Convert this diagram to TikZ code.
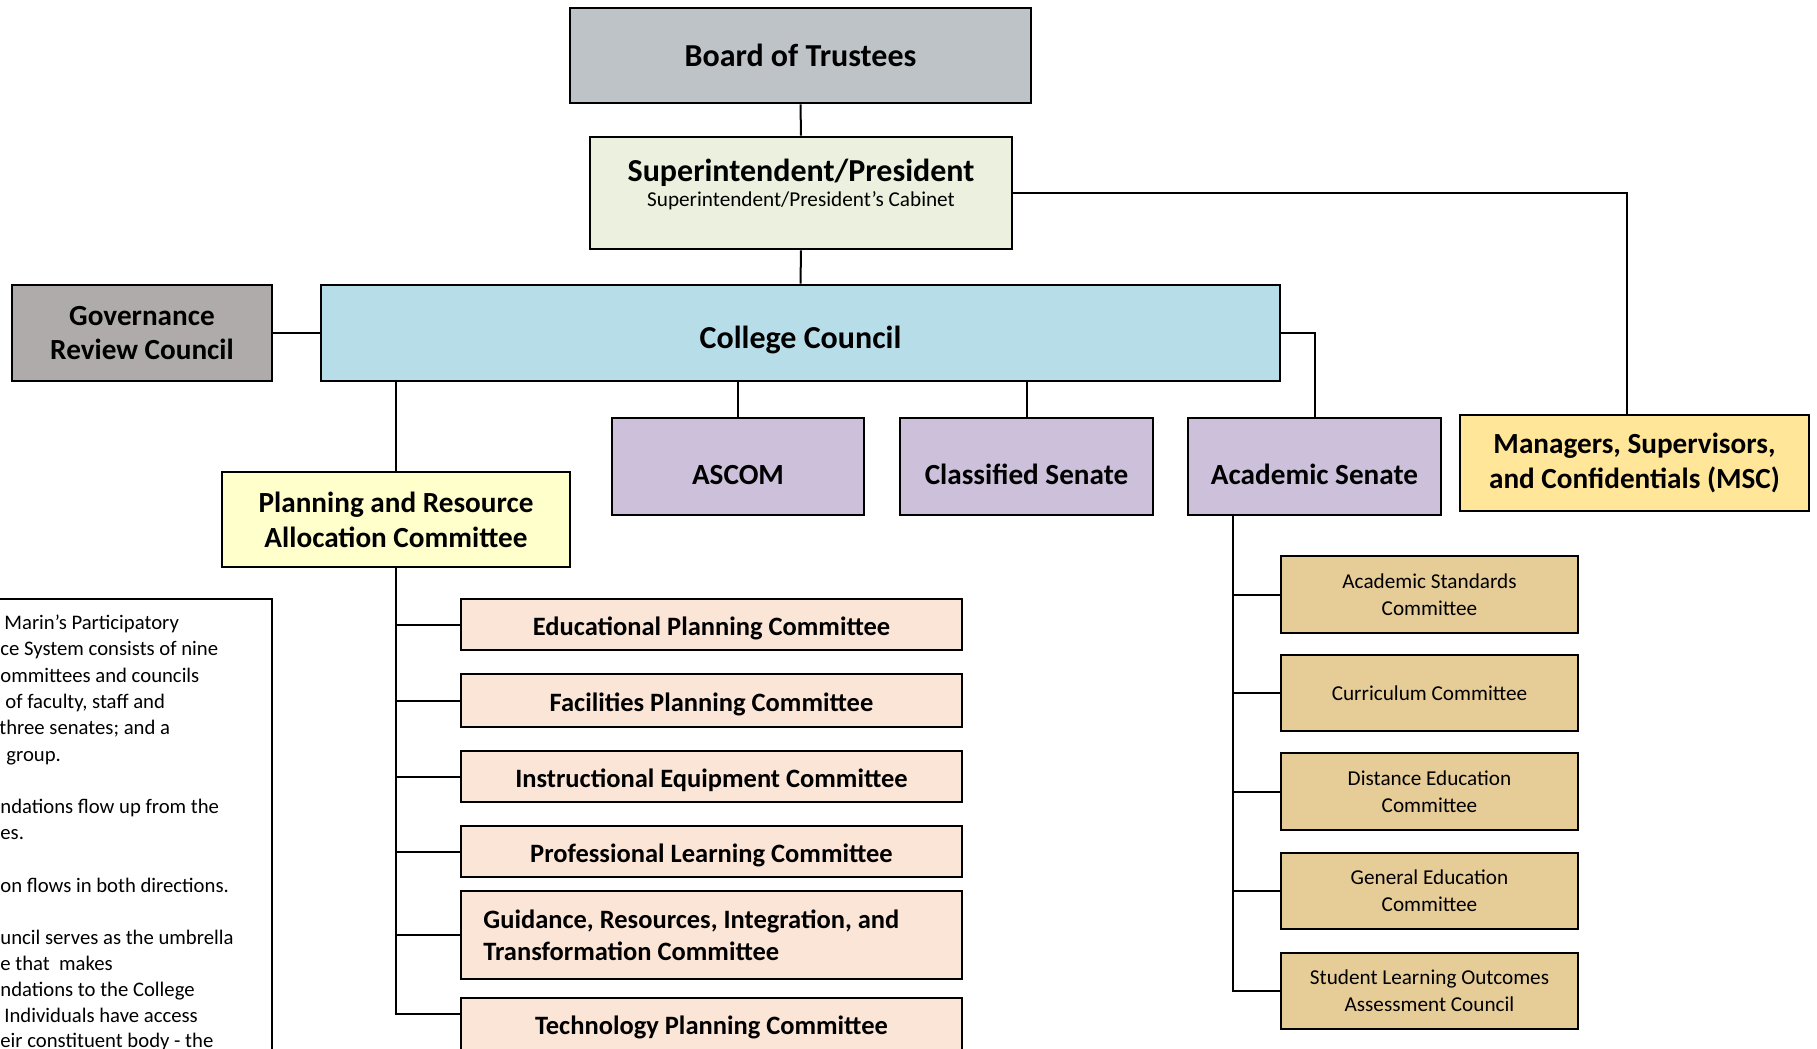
\documentclass[tikz,border=0pt]{standalone}
\usepackage{fontspec}
\setmainfont{Carlito}
\definecolor{cBoard}{HTML}{BEC3C8}
\definecolor{cSup}{HTML}{EBF1DE}
\definecolor{cGov}{HTML}{AFABAB}
\definecolor{cCol}{HTML}{B7DEE8}
\definecolor{cPrac}{HTML}{FFFFCC}
\definecolor{cSen}{HTML}{CCC0DA}
\definecolor{cMsc}{HTML}{FFE699}
\definecolor{cCom}{HTML}{FBE5D6}
\definecolor{cAc}{HTML}{E6CD98}
\newcommand\bx[8]{\node[#2, minimum width={(#5-#3)*0.5pt}, minimum height={(#6-#4)*0.5pt}, #7] (#1) at ({(#3+#5)/2},{(#4+#6)/2}) {#8};}
\begin{document}
\begin{tikzpicture}[x=0.5pt,y=-0.5pt,
  box/.style={draw=black, line width=1.3pt, inner sep=0pt, align=center},
  conn/.style={draw=black, line width=1pt},
  fA/.style={font=\fontsize{16}{19}\selectfont\bfseries},
  fB/.style={font=\fontsize{14.6}{17.4}\selectfont\bfseries},
  fC/.style={font=\fontsize{13.25}{16}\selectfont\bfseries},
  fD/.style={font=\fontsize{10.6}{13.3}\selectfont},
  lowA/.style={text height=15pt, text depth=0pt},
  lowB/.style={text height=18.4pt, text depth=0pt},
  lowC/.style={text height=10.6pt, text depth=0pt},
  note/.style={font=\fontsize{10.35}{13}\selectfont, anchor=base west, inner sep=0pt}]
\useasboundingbox (0,0) rectangle (1817,1049);
% top
\bx{board}{box, fill=cBoard}{570}{8}{1031}{103}{fA}{Board of Trustees}
\bx{sup}{box, fill=cSup}{590}{137}{1012}{249}{}{}
\node[fA, inner sep=0pt] (supT) at (801,172.5) {Superintendent/President};
\node[fD, inner sep=0pt] (supS) at (801,201) {Superintendent/President’s Cabinet};
\bx{gov}{box, fill=cGov}{12}{285}{272}{381}{fB}{Governance\\Review Council}
\bx{col}{box, fill=cCol}{321}{285}{1280}{381}{fA, lowA}{College Council}
\bx{prac}{box, fill=cPrac}{222}{472}{570}{567}{fB}{Planning and Resource\\Allocation Committee}
\bx{ascom}{box, fill=cSen}{612}{418}{864}{515}{fB, lowB}{ASCOM}
\bx{cls}{box, fill=cSen}{900}{418}{1153}{515}{fB, lowB}{Classified Senate}
\bx{acs}{box, fill=cSen}{1188}{418}{1441}{515}{fB, lowB}{Academic Senate}
\bx{msc}{box, fill=cMsc}{1460}{415}{1809}{511}{fB}{Managers, Supervisors,\\and Confidentials (MSC)}
% PRAC committees
\bx{epc}{box, fill=cCom}{461}{599}{962}{650}{fC, lowC}{Educational Planning Committee}
\bx{fpc}{box, fill=cCom}{461}{674}{962}{727}{fC, lowC}{Facilities Planning Committee}
\bx{iec}{box, fill=cCom}{461}{751}{962}{802}{fC, lowC}{Instructional Equipment Committee}
\bx{plc}{box, fill=cCom}{461}{826}{962}{877}{fC, lowC}{Professional Learning Committee}
\bx{grit}{box, fill=cCom}{461}{891}{962}{979}{}{}
\node[fC, align=left, anchor=west, inner sep=0pt] (gritT) at (483,935) {Guidance, Resources, Integration, and\\Transformation Committee};
\bx{tpc}{box, fill=cCom}{461}{998}{962}{1056}{fC}{Technology Planning Committee}
% Academic Senate committees
\bx{asc}{box, fill=cAc}{1281}{556}{1578}{633}{fD}{Academic Standards\\Committee}
\bx{cc}{box, fill=cAc}{1281}{655}{1578}{731}{fD}{Curriculum Committee}
\bx{dec}{box, fill=cAc}{1281}{753}{1578}{830}{fD}{Distance Education\\Committee}
\bx{gec}{box, fill=cAc}{1281}{853}{1578}{929}{fD}{General Education\\Committee}
\bx{slo}{box, fill=cAc}{1281}{953}{1578}{1029}{fD}{Student Learning Outcomes\\Assessment Council}
% connectors
\draw[conn] (board.south) -- (sup.north);
\draw[conn] (sup.south) -- (col.north);
\draw[conn] (gov.east) -- (col.west);
\draw[conn] (col.south -| prac.north) -- (prac.north);
\draw[conn] (col.south -| ascom.north) -- (ascom.north);
\draw[conn] (col.south -| cls.north) -- (cls.north);
\draw[conn] (col.east) -| (acs.north);
\coordinate (mscTop) at (1627,415);
\draw[conn] (sup.east) -| (mscTop);
\coordinate (tpcB) at (461,1014);
\draw[conn] (prac.south) |- (tpcB);
\foreach \n in {epc,fpc,iec,plc,grit} \draw[conn] (prac.south |- \n.west) -- (\n.west);
\coordinate (acsB) at (1233,515);
\draw[conn] (acsB) |- (slo.west);
\foreach \n in {asc,cc,dec,gec} \draw[conn] (acsB |- \n.west) -- (\n.west);
% note box
\bx{notebox}{draw=black, line width=1.3pt, inner sep=0pt}{-20}{599}{272}{1090}{}{}
\node[note] (n1) at (4,629) {Marin’s Participatory};
\node[note] (n2) at (0,655) {ce System consists of nine};
\node[note] (n3) at (0,682) {ommittees and councils};
\node[note] (n4) at (5,708) {of faculty, staff and};
\node[note] (n5) at (-1,734) {three senates; and a};
\node[note] (n6) at (6,761) {group.};
\node[note] (n7) at (0,813) {ndations flow up from the};
\node[note] (n8) at (0,839) {es.};
\node[note] (n9) at (0,892) {on flows in both directions.};
\node[note] (n10) at (0,944) {uncil serves as the umbrella};
\node[note] (n11) at (0,970) {e that\ \ makes};
\node[note] (n12) at (0,996) {ndations to the College};
\node[note] (n13) at (4,1022) {Individuals have access};
\node[note] (n14) at (0,1047) {eir constituent body - the};
\end{tikzpicture}
\end{document}
